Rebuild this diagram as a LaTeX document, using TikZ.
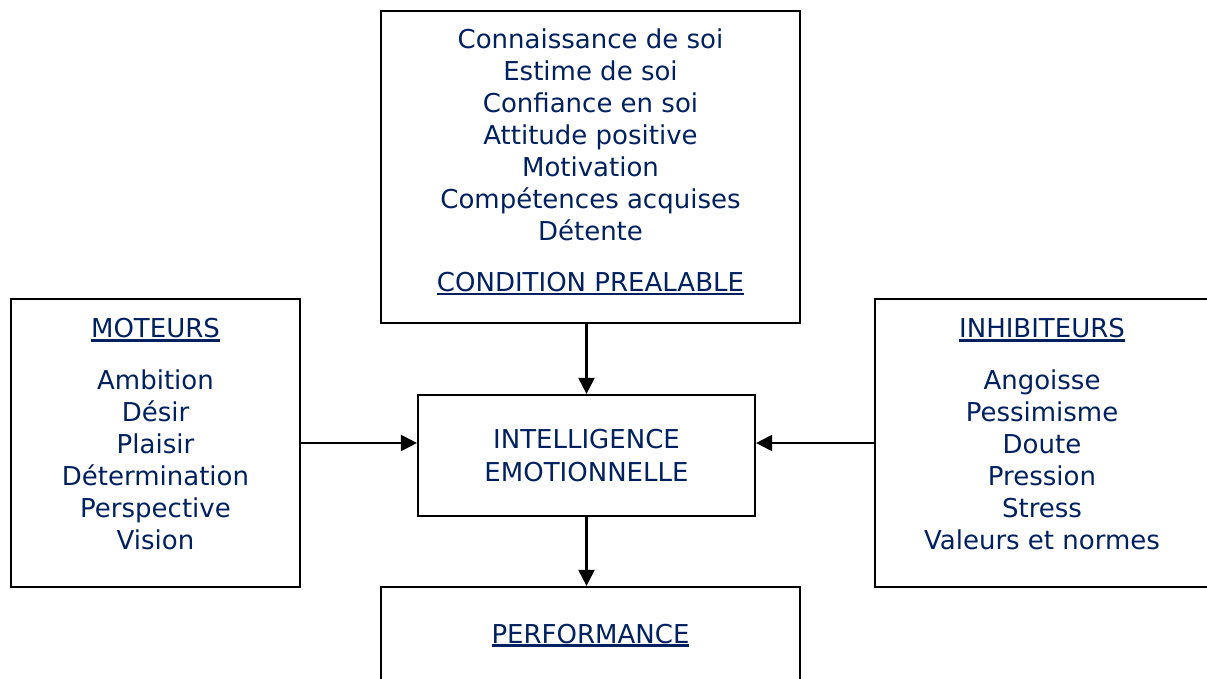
\documentclass[tikz,border=0pt]{standalone}
\usepackage{fontspec}
\setmainfont{DejaVu Sans}
\usepackage{xcolor}
\usepackage{tikz}
\usetikzlibrary{arrows.meta}
\usetikzlibrary{calc}

\definecolor{bleu}{RGB}{0,32,96}
\newcommand{\souligne}[1]{\leavevmode\setbox0\hbox{#1}\rlap{\rule[-3.5pt]{\wd0}{2.5pt}}\box0}

\begin{document}
\begin{tikzpicture}[x=1pt,y=1pt,semithick]
  \tikzstyle{cadre}=[draw=black, line width=2.2pt, inner sep=0pt, text=bleu, font=\fontsize{26}{32}\selectfont]
  \tikzstyle{fleche}=[line width=2.2pt, -{Triangle[length=16pt,width=16pt]}]
  \useasboundingbox (0,0) rectangle (1207,678);
  \clip (0,0) rectangle (1207,678);
  \node[cadre] (cond) at (590.5,511) {\parbox[c][312pt][t]{419pt}{\centering\vspace*{15.6pt}\strut Connaissance de soi\\Estime de soi\\Confiance en soi\\Attitude positive\\Motivation\\Compétences acquises\\Détente\\[19pt]\souligne{CONDITION PREALABLE}}};
  \node[cadre] (moteurs) at (155.5,235) {\parbox[c][288pt][t]{289pt}{\centering\vspace*{16.6pt}\strut\souligne{MOTEURS}\\[19pt]Ambition\\Désir\\Plaisir\\Détermination\\Perspective\\Vision}};
  \node[cadre] (ie) at (586.5,222.5) {\parbox[c][121pt][t]{337pt}{\centering\vspace*{31.6pt}\strut INTELLIGENCE\\EMOTIONNELLE}};
  \node[cadre] (inhib) at (1042,235) {\parbox[c][288pt][t]{334pt}{\centering\vspace*{16.6pt}\strut\souligne{INHIBITEURS}\\[19pt]Angoisse\\Pessimisme\\Doute\\Pression\\Stress\\Valeurs et normes}};
  \node[cadre] (perf) at (590.5,16) {\parbox[c][150pt][t]{419pt}{\centering\vspace*{33.6pt}\strut\souligne{PERFORMANCE}}};
  % fleches vers le centre
  \draw[fleche] (cond.south -| ie.north) -- (ie.north);
  \draw[fleche] (moteurs.east) -- (moteurs.east -| ie.west);
  \draw[fleche] (inhib.west) -- (inhib.west -| ie.east);
  \draw[fleche] (ie.south) -- (ie.south |- perf.north);
\end{tikzpicture}
\end{document}
